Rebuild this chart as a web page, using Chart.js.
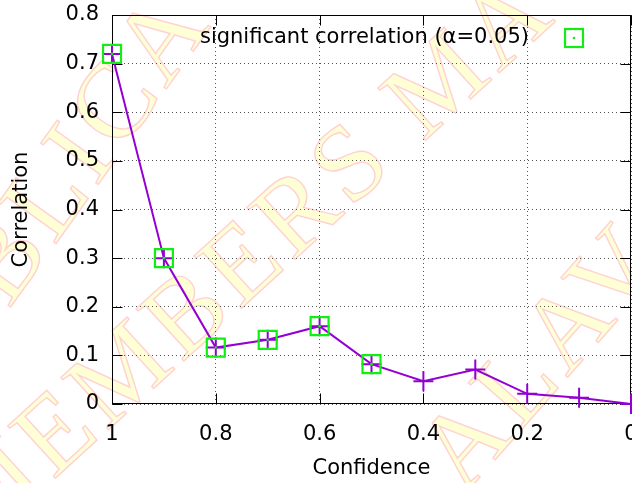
<!DOCTYPE html>
<html>
<head>
<meta charset="utf-8">
<script src="https://cdn.jsdelivr.net/npm/chart.js@4.4.1/dist/chart.umd.min.js"></script>
<style>
  html, body { margin: 0; padding: 0; background: #fff; overflow: hidden; }
  #corrChart { display: block; }
</style>
</head>
<body>
<canvas id="corrChart" width="650" height="483"></canvas>
<script>
// correlation vs. confidence threshold
const confidence = [1, 0.9, 0.8, 0.7, 0.6, 0.5, 0.4, 0.3, 0.2, 0.1, 0];
const correlation = [0.72, 0.30, 0.116, 0.132, 0.160, 0.082, 0.047, 0.071, 0.021, 0.013, 0];
const significant = [true, true, true, true, true, true, false, false, false, false, false];
const xTicks = [1, 0.8, 0.6, 0.4, 0.2, 0];
const yTicks = [0, 0.1, 0.2, 0.3, 0.4, 0.5, 0.6, 0.7, 0.8];
const legendLabel = 'significant correlation (α=0.05)';
const watermarkRows = ['PUBLICA', 'MEMBERS MA', 'ALAV'];

const FONT = '"DejaVu Sans", Verdana, sans-serif';
const FONT_SIZE = 21;
const PURPLE = '#9400d3';
const GREEN = '#11ee11';

const allPoints = confidence.map((x, i) => ({ x: x, y: correlation[i] }));
const sigPoints = allPoints.filter((p, i) => significant[i]);

// big faint lettering behind everything
const watermark = {
    id: 'watermark',
    beforeDraw(chart) {
        const ctx = chart.ctx;
        const rows = [
            { cx: 45, cy: 210, rot: -0.95 },
            { cx: 250, cy: 262, rot: -0.74 },
            { cx: 545, cy: 360, rot: -0.85 }
        ];
        ctx.save();
        ctx.fillStyle = '#fff';
        ctx.fillRect(0, 0, chart.width, chart.height);
        ctx.font = '108px "Liberation Serif", "DejaVu Serif", serif';
        ctx.textAlign = 'center';
        ctx.textBaseline = 'middle';
        ctx.letterSpacing = '6px';
        ctx.lineWidth = 1.4;
        watermarkRows.forEach((txt, i) => {
            ctx.save();
            ctx.translate(rows[i].cx, rows[i].cy);
            ctx.rotate(rows[i].rot);
            ctx.fillStyle = '#ffffd6';
            ctx.fillText(txt, 0, 0);
            ctx.strokeStyle = '#ffd2d2';
            ctx.strokeText(txt, 0, 0);
            ctx.restore();
        });
        ctx.restore();
    }
};

// gnuplot-like frame with inward tick marks on all four sides
const frame = {
    id: 'frame',
    beforeDatasetsDraw(chart) {
        const { ctx, chartArea: a, scales } = chart;
        const L = Math.round(a.left) + 0.5, R = Math.round(a.right) - 0.5;
        const T = Math.round(a.top) + 0.5, B = Math.round(a.bottom) - 0.5;
        const len = 10;
        ctx.save();
        ctx.strokeStyle = '#000';
        ctx.lineWidth = 1;
        ctx.beginPath();
        scales.x.ticks.forEach(t => {
            const px = Math.round(scales.x.getPixelForValue(t.value)) + 0.5;
            ctx.moveTo(px, B); ctx.lineTo(px, B - len);
            ctx.moveTo(px, T); ctx.lineTo(px, T + len);
        });
        scales.y.ticks.forEach(t => {
            const py = Math.round(scales.y.getPixelForValue(t.value)) + 0.5;
            ctx.moveTo(L, py); ctx.lineTo(L + len, py);
            ctx.moveTo(R, py); ctx.lineTo(R - len, py);
        });
        ctx.stroke();
        ctx.strokeRect(L, T, R - L, B - T);
        ctx.restore();
    }
};

// key in the top right corner of the plot
const keyBox = {
    id: 'keyBox',
    afterDraw(chart) {
        const ctx = chart.ctx;
        const a = chart.chartArea;
        const y = a.top + 23;
        const sx = 574;
        ctx.save();
        ctx.font = FONT_SIZE + 'px ' + FONT;
        ctx.fillStyle = '#000';
        ctx.textAlign = 'right';
        ctx.textBaseline = 'middle';
        ctx.fillText(legendLabel, 529, y);
        ctx.strokeStyle = GREEN;
        ctx.lineWidth = 2.2;
        ctx.strokeRect(sx - 9, y - 9, 18, 18);
        ctx.fillStyle = GREEN;
        ctx.beginPath();
        ctx.arc(sx, y, 1.3, 0, Math.PI * 2);
        ctx.fill();
        ctx.restore();
    }
};

new Chart(document.getElementById('corrChart'), {
    type: 'line',
    data: {
        datasets: [
            {
                data: sigPoints,
                showLine: false,
                pointStyle: 'circle',
                pointRadius: 1.3,
                pointBackgroundColor: GREEN,
                pointBorderWidth: 0,
                clip: false,
                order: 0
            },
            {
                data: sigPoints,
                showLine: false,
                pointStyle: 'rect',
                pointRadius: 12.7,
                pointBorderColor: GREEN,
                pointBackgroundColor: 'rgba(0,0,0,0)',
                pointBorderWidth: 2.2,
                clip: false,
                order: 1
            },
            {
                data: allPoints,
                borderColor: PURPLE,
                borderWidth: 2,
                tension: 0,
                pointStyle: 'cross',
                pointRadius: 10,
                pointBorderColor: PURPLE,
                pointBorderWidth: 2,
                clip: false,
                order: 2
            }
        ]
    },
    options: {
        responsive: false,
        animation: false,
        events: [],
        layout: { padding: { left: 0, top: 15, right: 19, bottom: 0 } },
        plugins: {
            legend: { display: false },
            tooltip: { enabled: false }
        },
        scales: {
            x: {
                type: 'linear',
                reverse: true,
                min: 0,
                max: 1,
                afterBuildTicks: s => { s.ticks = xTicks.map(v => ({ value: v })); },
                afterFit: s => { s.height = 79; },
                ticks: {
                    callback: v => String(v),
                    padding: 2,
                    maxRotation: 0,
                    color: '#000',
                    font: { family: FONT, size: FONT_SIZE }
                },
                grid: { color: '#555', lineWidth: 1, drawTicks: true, tickLength: 16, tickColor: 'rgba(0,0,0,0)' },
                border: { display: false, dash: [1, 3] },
                title: {
                    display: true,
                    text: 'Confidence',
                    color: '#000',
                    font: { family: FONT, size: FONT_SIZE },
                    padding: { top: 0, bottom: 2 }
                }
            },
            y: {
                min: 0,
                max: 0.8,
                afterBuildTicks: s => { s.ticks = yTicks.map(v => ({ value: v })); },
                afterFit: s => { s.width = 112; },
                ticks: {
                    callback: v => String(v),
                    padding: 2,
                    color: '#000',
                    font: { family: FONT, size: FONT_SIZE }
                },
                grid: { color: '#555', lineWidth: 1, drawTicks: true, tickLength: 11, tickColor: 'rgba(0,0,0,0)' },
                border: { display: false, dash: [1, 3] },
                title: {
                    display: true,
                    text: 'Correlation',
                    color: '#000',
                    font: { family: FONT, size: FONT_SIZE },
                    padding: { top: 9, bottom: 0 }
                }
            }
        }
    },
    plugins: [watermark, frame, keyBox]
});
</script>
</body>
</html>
